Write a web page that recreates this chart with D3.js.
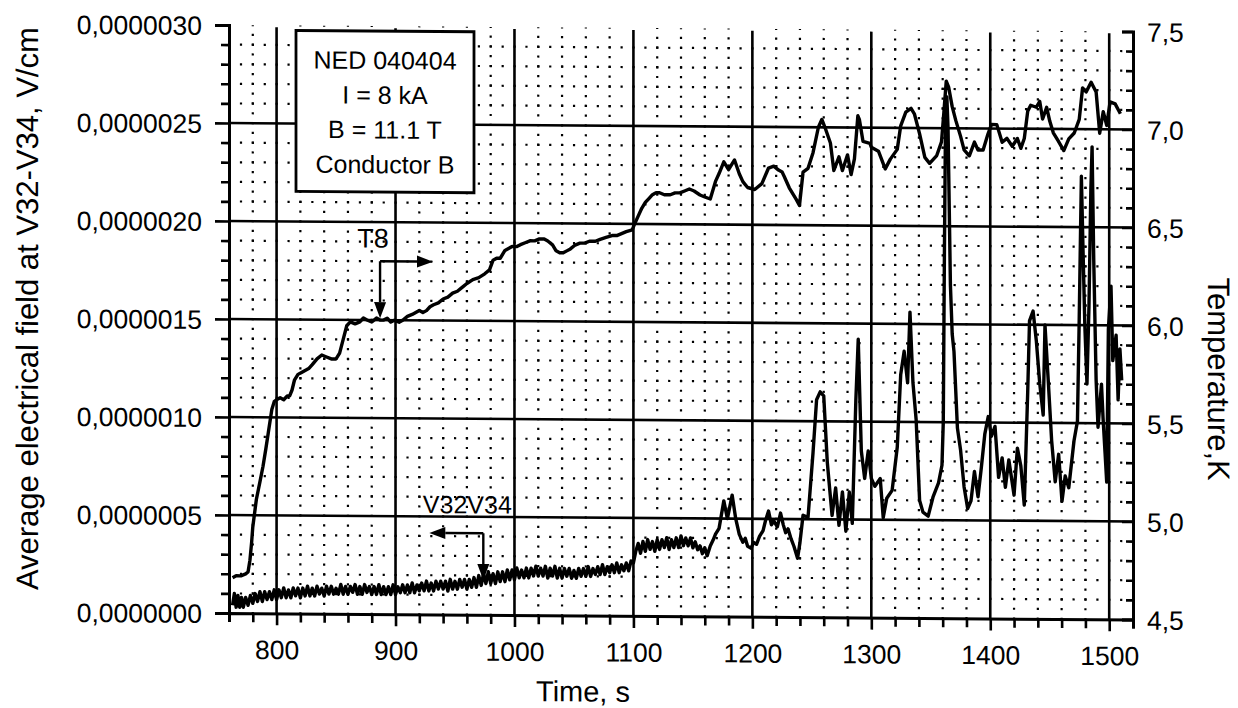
<!DOCTYPE html>
<html><head><meta charset="utf-8">
<script src="https://cdn.jsdelivr.net/npm/d3@7"></script>
<style>
body{margin:0;background:#fff;}
svg{display:block;}
text{font-family:"Liberation Sans", Arial, sans-serif; fill:#000;}
</style></head><body>
<svg id="chart" width="1238" height="708"></svg>
<script>
// ---------- data ----------
const xTicks = [800,900,1000,1100,1200,1300,1400,1500];
const leftTicks = [0,0.5,1,1.5,2,2.5,3];          // ×1e-6 V/cm
const rightTicks = [4.5,5,5.5,6,6.5,7,7.5];       // K
const legendLines = ["NED 040404","I = 8 kA","B = 11.1 T","Conductor B"];

// T8 temperature, K (right axis)
const t8 = [[763,4.68],[766,4.69],[770,4.69],[774,4.70],[776,4.71],[777.6,4.77],[779,4.86],[780,4.94],[783,5.08],[786,5.17],[788.6,5.25],[791,5.34],[793,5.42],[796,5.54],[798,5.58],[800,5.59],[803,5.60],[806,5.59],[809,5.61],[811,5.61],[813,5.64],[815,5.69],[818,5.72],[821,5.73],[824,5.74],[827,5.75],[830,5.77],[834,5.80],[838,5.82],[842,5.81],[846,5.80],[850,5.80],[853,5.83],[856,5.90],[859,5.97],[862,5.99],[866,5.98],[870,5.99],[873,6.01],[876,6.00],[880,5.99],[884,6.01],[887,6.00],[890,6.00],[893,6.01],[896,5.99],[899,6.00],[903,5.99],[906,6.00],[910,6.02],[914,6.03],[917,6.04],[920,6.05],[923,6.04],[926,6.05],[929,6.07],[932,6.08],[936,6.09],[940,6.11],[944,6.12],[948,6.14],[952,6.15],[956,6.17],[960,6.19],[965,6.21],[970,6.22],[975,6.24],[979,6.26],[982,6.31],[985,6.32],[988,6.32],[992,6.36],[995,6.37],[998,6.38],[1002,6.38],[1005,6.39],[1009,6.40],[1013,6.41],[1017,6.41],[1021,6.42],[1025,6.42],[1028,6.41],[1032,6.39],[1035,6.36],[1038,6.35],[1041,6.35],[1044,6.36],[1047,6.37],[1051,6.39],[1055,6.40],[1059,6.40],[1063,6.41],[1068,6.41],[1072,6.42],[1077,6.43],[1082,6.44],[1086,6.44],[1090,6.45],[1094,6.46],[1099,6.47],[1101,6.50],[1104,6.54],[1107,6.58],[1110,6.61],[1113,6.63],[1116,6.65],[1119,6.66],[1122,6.66],[1126,6.65],[1131,6.65],[1135,6.66],[1139,6.66],[1143,6.67],[1147,6.68],[1151,6.67],[1156,6.65],[1160,6.64],[1164.6,6.63],[1169,6.72],[1172,6.76],[1176,6.82],[1180,6.78],[1185,6.83],[1189,6.76],[1192,6.72],[1196,6.69],[1202,6.68],[1208,6.71],[1213.6,6.79],[1218,6.80],[1222,6.78],[1225,6.77],[1226.6,6.75],[1231,6.69],[1237,6.63],[1239.6,6.60],[1242.6,6.77],[1246.8,6.79],[1251,6.87],[1255.5,7.00],[1258.4,7.04],[1261,7.00],[1265.6,6.92],[1268.5,6.78],[1272.8,6.85],[1275.7,6.78],[1280,6.86],[1283,6.76],[1285.8,6.84],[1288.7,7.06],[1290,7.04],[1293,6.93],[1298.8,6.92],[1300,6.90],[1306,6.88],[1311.7,6.79],[1316,6.84],[1321.8,6.89],[1324.7,7.01],[1329,7.08],[1333.4,7.10],[1336.3,7.07],[1340.6,6.97],[1345,6.85],[1349,6.82],[1355,6.86],[1359,6.93],[1361,7.08],[1363,7.24],[1365,7.21],[1368,7.11],[1371,7.04],[1375,6.96],[1378,6.89],[1382.4,6.86],[1386.7,6.93],[1389.7,6.89],[1394,6.89],[1398,6.97],[1401,7.02],[1405.5,7.02],[1410,6.93],[1414,6.95],[1418.5,6.91],[1422.8,6.95],[1425.7,6.90],[1428.6,6.95],[1431.5,7.09],[1434,7.12],[1438.7,7.11],[1441.6,7.14],[1444,7.05],[1447.4,7.11],[1450,7.04],[1453,6.98],[1457,6.94],[1461.8,6.89],[1466,6.95],[1470.6,6.98],[1474.8,7.05],[1477.6,7.21],[1480.6,7.19],[1484.8,7.24],[1489,7.19],[1492,6.98],[1495,7.09],[1497.9,7.02],[1500.7,7.14],[1505,7.13],[1509.4,7.08]];

// V32-V34 average electrical field, ×1e-6 V/cm (left axis)
const v3234 = [[763,0.04],[764.5,0.10],[766,0.03],[767.5,0.09],[769,0.03],[770.5,0.08],[772,0.03],[774,0.08],[776,0.04],[778,0.09],[780,0.05],[782,0.10],[784,0.06],[786,0.11],[788,0.06],[790,0.11],[792,0.07],[794,0.11],[796,0.07],[798,0.12],[800,0.07],[802,0.12],[804,0.08],[806,0.13],[808,0.08],[810,0.12],[812,0.08],[814,0.13],[816,0.09],[818,0.13],[820,0.08],[822,0.13],[824,0.09],[826,0.14],[828,0.09],[830,0.13],[832,0.09],[834,0.14],[836,0.10],[838,0.13],[840,0.09],[842,0.14],[844,0.10],[846,0.14],[848,0.10],[850,0.13],[852,0.10],[854,0.15],[856,0.10],[858,0.14],[860,0.10],[862,0.14],[864,0.11],[866,0.15],[868,0.10],[870,0.14],[872,0.10],[874,0.15],[876,0.11],[878,0.14],[880,0.10],[882,0.14],[884,0.10],[886,0.15],[888,0.10],[890,0.14],[892,0.10],[894,0.14],[896,0.10],[898,0.15],[900,0.10],[902,0.14],[904,0.11],[906,0.15],[908,0.11],[910,0.15],[912,0.11],[914,0.16],[916,0.11],[918,0.15],[920,0.12],[922,0.16],[924,0.12],[926,0.17],[928,0.12],[930,0.16],[932,0.12],[934,0.17],[936,0.13],[938,0.17],[940,0.13],[942,0.17],[944,0.12],[946,0.18],[948,0.13],[950,0.17],[952,0.13],[954,0.18],[956,0.14],[958,0.18],[960,0.13],[962,0.18],[964,0.14],[966,0.19],[968,0.14],[970,0.20],[972,0.15],[974,0.21],[976,0.16],[978,0.22],[980,0.16],[982,0.21],[984,0.16],[986,0.22],[988,0.17],[990,0.22],[992,0.17],[994,0.23],[996,0.18],[998,0.23],[1000,0.18],[1002,0.24],[1004,0.19],[1006,0.23],[1008,0.19],[1010,0.24],[1012,0.19],[1014,0.24],[1016,0.20],[1018,0.25],[1020,0.20],[1022,0.24],[1024,0.20],[1026,0.25],[1028,0.19],[1030,0.24],[1032,0.20],[1034,0.25],[1036,0.19],[1038,0.24],[1040,0.19],[1042,0.24],[1044,0.20],[1046,0.24],[1048,0.19],[1050,0.23],[1052,0.19],[1054,0.24],[1056,0.20],[1058,0.24],[1060,0.20],[1062,0.25],[1064,0.20],[1066,0.24],[1068,0.21],[1070,0.25],[1072,0.21],[1074,0.26],[1076,0.21],[1078,0.25],[1080,0.22],[1082,0.26],[1084,0.22],[1086,0.27],[1088,0.22],[1090,0.26],[1092,0.23],[1094,0.27],[1096,0.23],[1098,0.28],[1100,0.27],[1102,0.33],[1104,0.37],[1106,0.32],[1108,0.38],[1110,0.33],[1112,0.39],[1114,0.34],[1116,0.38],[1118,0.33],[1120,0.39],[1122,0.34],[1124,0.39],[1126,0.35],[1128,0.40],[1130,0.34],[1132,0.39],[1134,0.35],[1136,0.40],[1138,0.35],[1140,0.41],[1142,0.36],[1144,0.40],[1146,0.36],[1148,0.40],[1150,0.35],[1152,0.38],[1154,0.34],[1156,0.36],[1158,0.32],[1160,0.35],[1162,0.31],[1164.6,0.36],[1167,0.39],[1169,0.42],[1172,0.45],[1174,0.52],[1176,0.59],[1179,0.50],[1181,0.56],[1183,0.62],[1186,0.50],[1189,0.42],[1192,0.38],[1194,0.40],[1196,0.36],[1199,0.35],[1201,0.38],[1203.5,0.37],[1206,0.41],[1209,0.44],[1211,0.49],[1213.6,0.54],[1216,0.47],[1218,0.49],[1221,0.46],[1223.7,0.53],[1226,0.47],[1228,0.43],[1230,0.45],[1232.5,0.40],[1235,0.36],[1238,0.30],[1240,0.38],[1242.6,0.52],[1246.8,0.51],[1251,0.84],[1254,1.11],[1257,1.15],[1260,1.13],[1263,0.79],[1267,0.52],[1270,0.66],[1272.8,0.47],[1275.7,0.64],[1278.6,0.44],[1281.5,0.64],[1284,0.48],[1287,1.11],[1289,1.42],[1291.6,0.85],[1294.4,0.71],[1297.4,0.85],[1300,0.71],[1303,0.67],[1307.5,0.71],[1310,0.51],[1313,0.61],[1317.5,0.65],[1321.8,0.87],[1324.7,1.24],[1327.6,1.36],[1330.5,1.20],[1332.5,1.56],[1335,1.20],[1337.7,1.01],[1340.6,0.60],[1343.4,0.54],[1347.8,0.52],[1352,0.62],[1356.5,0.69],[1359.4,0.78],[1360.5,1.00],[1361.5,1.90],[1362.5,2.62],[1363.5,2.66],[1364.5,2.50],[1365.5,2.10],[1366.5,1.70],[1368,1.45],[1369.5,1.36],[1372.4,0.97],[1375,0.86],[1378,0.67],[1381,0.56],[1383.8,0.60],[1386.7,0.75],[1389.7,0.62],[1392.5,0.77],[1395.4,0.94],[1398.3,1.03],[1401,0.93],[1404,0.98],[1407,0.72],[1410,0.82],[1412.7,0.67],[1415.6,0.81],[1420,0.63],[1422.8,0.87],[1425.7,0.78],[1428.6,0.58],[1431.5,1.16],[1433,1.52],[1436,1.57],[1438.7,1.42],[1441.6,1.20],[1444.5,1.04],[1446,1.50],[1448.8,1.21],[1451.6,0.91],[1454.6,0.70],[1457.5,0.84],[1460.3,0.60],[1463,0.73],[1466,0.67],[1470.4,0.91],[1473.3,1.01],[1474.7,1.50],[1476.6,2.26],[1478,1.88],[1479.5,1.50],[1481.3,1.20],[1483,1.60],[1484.6,2.20],[1485.6,2.41],[1487,1.83],[1489,1.22],[1490.6,0.98],[1493.5,1.20],[1494.8,1.03],[1496.5,0.85],[1497.9,0.70],[1499.3,1.48],[1501.5,1.70],[1503,1.32],[1505.8,1.45],[1507.5,1.12],[1509,1.38],[1510.5,1.22]];

// ---------- layout ----------
const m = {l:229, r:1133, t:25, b:613};
const skew = 0.0072;   // the original scan is slightly sheared
const x  = d3.scaleLinear().domain([760,1520]).range([m.l,m.r]);
const yL = d3.scaleLinear().domain([0,3]).range([m.b,m.t]);
const yR = d3.scaleLinear().domain([4.5,7.5]).range([m.b,m.t]);

const svg = d3.select('#chart');
svg.append('rect').attr('width',1238).attr('height',708).attr('fill','#fff');
const g = svg.append('g').attr('transform',`matrix(1,${skew},0,1,0,${-m.l*skew})`);

// ---------- dotted minor grid ----------
const dot = 2.2;
const rowPeriod = x(770)-x(760);
const colPeriod = yL(0)-yL(0.05);
const minorY = d3.range(1,30).filter(i=>i%5).map(i=>i/10);
const minorX = d3.range(780,1520,20).filter(t=>t%100);
g.append('g').selectAll('line').data(minorY).join('line')
  .attr('x1',x(760)-1).attr('x2',m.r).attr('y1',d=>yL(d)).attr('y2',d=>yL(d))
  .attr('stroke','#000').attr('stroke-width',2.2)
  .attr('stroke-dasharray',`${dot},${rowPeriod-dot}`);
g.append('g').selectAll('line').data(minorX).join('line')
  .attr('x1',d=>x(d)).attr('x2',d=>x(d)).attr('y1',yL(0)+1).attr('y2',m.t)
  .attr('stroke','#000').attr('stroke-width',2.2)
  .attr('stroke-dasharray',`${dot},${colPeriod-dot}`);

// ---------- major grid ----------
g.append('g').selectAll('line').data(leftTicks.filter(v=>v>0&&v<3)).join('line')
  .attr('x1',m.l).attr('x2',m.r).attr('y1',d=>yL(d)).attr('y2',d=>yL(d))
  .attr('stroke','#000').attr('stroke-width',2.6);
g.append('g').selectAll('line').data(xTicks).join('line')
  .attr('x1',d=>x(d)).attr('x2',d=>x(d)).attr('y1',m.t+2).attr('y2',m.b)
  .attr('stroke','#000').attr('stroke-width',2.6);

// ---------- axes ----------
const fmtL = v => (v*1e-6).toFixed(7).replace('.',',');
const fmtR = v => v.toFixed(1).replace('.',',');
const fmtX = v => String(v);
const minorLeft = d3.range(0,31).filter(i=>i%5).map(i=>i/10);
const minorBottom = d3.range(760,1521,20).filter(t=>t%100);

function style(sel, fs){
  sel.selectAll('path.domain').attr('stroke','#000').attr('stroke-width',3);
  sel.selectAll('.tick line').attr('stroke','#000').attr('stroke-width',2.6);
  sel.selectAll('text').attr('font-size',fs).attr('font-family','"Liberation Sans", Arial, sans-serif').attr('fill','#000');
}
// left
const aLm = g.append('g').attr('transform',`translate(${m.l},0)`)
  .call(d3.axisLeft(yL).tickValues(minorLeft).tickSize(8).tickFormat(''));
aLm.select('.domain').remove(); style(aLm,26);
const aL = g.append('g').attr('transform',`translate(${m.l},0)`)
  .call(d3.axisLeft(yL).tickValues(leftTicks).tickSize(14).tickSizeOuter(14).tickPadding(13).tickFormat(fmtL));
style(aL,26.5); aL.selectAll('text').attr('dy','0.36em');
// bottom
const aBm = g.append('g').attr('transform',`translate(0,${m.b})`)
  .call(d3.axisBottom(x).tickValues(minorBottom).tickSize(9).tickFormat(''));
aBm.select('.domain').remove(); style(aBm,26);
const aB = g.append('g').attr('transform',`translate(0,${m.b})`)
  .call(d3.axisBottom(x).tickValues(xTicks).tickSize(12).tickSizeOuter(9).tickPadding(15).tickFormat(fmtX));
style(aB,26.5);
// right
const aRm = g.append('g').attr('transform',`translate(${m.r},0)`)
  .call(d3.axisRight(yR).tickValues(d3.range(45,76).filter(i=>i%5).map(i=>i/10)).tickSize(-7).tickFormat(''));
aRm.select('.domain').remove(); style(aRm,26);
const aR = g.append('g').attr('transform',`translate(${m.r},0)`)
  .call(d3.axisRight(yR).tickValues(rightTicks).tickSize(-11).tickSizeOuter(-11).tickPadding(14).tickFormat(fmtR));
style(aR,26.5); aR.selectAll('text').attr('dy','0.36em');

// ---------- data lines ----------
g.append('path').datum(v3234)
  .attr('d', d3.line().x(d=>x(d[0])).y(d=>yL(d[1])))
  .attr('fill','none').attr('stroke','#000').attr('stroke-width',3.4).attr('stroke-linejoin','round');
g.append('path').datum(t8)
  .attr('d', d3.line().x(d=>x(d[0])).y(d=>yR(d[1])))
  .attr('fill','none').attr('stroke','#000').attr('stroke-width',3.4).attr('stroke-linejoin','round');

// ---------- legend box ----------
const box = {x:296, y:30, w:178, h:161};
g.append('rect').attr('x',box.x).attr('y',box.y).attr('width',box.w).attr('height',box.h)
  .attr('fill','#fff').attr('stroke','#000').attr('stroke-width',2.8);
g.append('g').selectAll('text').data(legendLines).join('text')
  .attr('x',box.x+box.w/2).attr('y',(d,i)=>box.y+38+i*34.7)
  .attr('text-anchor','middle').attr('font-size',25).text(d=>d);

// ---------- annotations ----------
function arrow(x1,y1,x2,y2){
  const a = Math.atan2(y2-y1,x2-x1), L=16, w=6;
  const bx = x2-L*Math.cos(a), by = y2-L*Math.sin(a);
  g.append('line').attr('x1',x1).attr('y1',y1).attr('x2',bx).attr('y2',by)
    .attr('stroke','#000').attr('stroke-width',2.4);
  g.append('path').attr('d',`M${x2},${y2}L${bx+w*Math.sin(a)},${by-w*Math.cos(a)}L${bx-w*Math.sin(a)},${by+w*Math.cos(a)}Z`)
    .attr('fill','#000');
}
// T8 -> right axis
arrow(x(887), yR(6.30), x(887), yR(6.01));
arrow(x(887), yR(6.30), x(931.5), yR(6.30));
g.append('text').attr('x',x(881)).attr('y',yR(6.37)).attr('text-anchor','middle').attr('font-size',27).text('T8');
// V32V34 -> left axis
arrow(x(973.8), yL(0.416), x(973.8), yL(0.178));
arrow(x(973.8), yL(0.416), x(928.4), yL(0.416));
g.append('text').attr('x',x(923)).attr('y',yL(0.517)).attr('font-size',25).text('V32V34');

// ---------- axis titles ----------
g.append('text').attr('transform','translate(28,310) rotate(-90)')
  .attr('text-anchor','middle').attr('dominant-baseline','central').attr('font-size',31)
  .text('Average electrical field at V32-V34, V/cm');
g.append('text').attr('transform','translate(1218,372) rotate(90)')
  .attr('text-anchor','middle').attr('dominant-baseline','central').attr('font-size',31)
  .text('Temperature,K');
g.append('text').attr('x',583).attr('y',699).attr('text-anchor','middle').attr('font-size',29)
  .text('Time, s');
</script>
</body></html>
